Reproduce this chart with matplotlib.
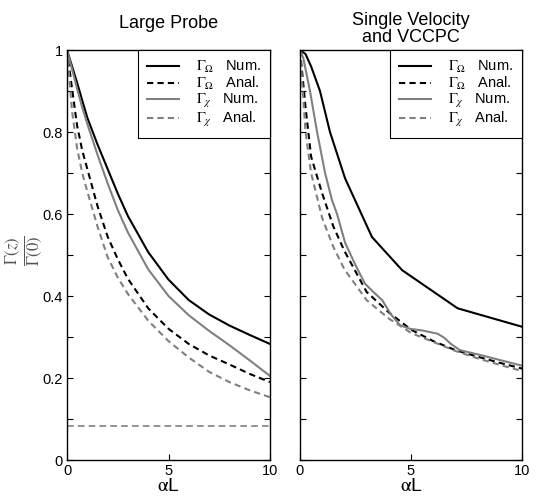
import matplotlib
matplotlib.use("Agg")
import matplotlib.pyplot as plt

plt.rcParams['font.family'] = ['Liberation Sans', 'DejaVu Sans']
plt.rcParams['mathtext.fontset'] = 'stix'

# ---- data ----
# left panel: Large Probe
xl = [0, 0.25, 0.5, 0.75, 1, 1.5, 2, 2.5, 3, 4, 5, 6, 7, 8, 9, 10]
lp_omega_num = [1.0, 0.96, 0.92, 0.877, 0.835, 0.77, 0.71, 0.65, 0.595, 0.507, 0.44, 0.39, 0.355, 0.328, 0.305, 0.283]
lp_omega_anal = [1.0, 0.905, 0.815, 0.755, 0.71, 0.62, 0.545, 0.49, 0.442, 0.37, 0.32, 0.283, 0.255, 0.233, 0.21, 0.19]
lp_chi_num = [1.0, 0.953, 0.905, 0.86, 0.82, 0.745, 0.675, 0.61, 0.555, 0.465, 0.40, 0.353, 0.315, 0.28, 0.243, 0.205]
lp_chi_anal = [1.0, 0.85, 0.76, 0.70, 0.655, 0.57, 0.495, 0.445, 0.405, 0.34, 0.29, 0.25, 0.215, 0.19, 0.17, 0.153]
noise_floor = 0.083

# right panel: Single Velocity and VCCPC
xr_omega_num = [0, 0.25, 0.5, 0.9, 1.35, 2.03, 3.24, 4.6, 7.1, 10]
sv_omega_num = [1.0, 0.99, 0.96, 0.9, 0.8, 0.687, 0.544, 0.463, 0.37, 0.325]
xr_chi_num = [0, 0.15, 0.45, 0.77, 1.13, 1.44, 1.67, 2.03, 2.5, 2.93, 3.3, 3.7, 4.1, 4.5, 4.95, 5.5, 6.2, 6.5, 6.8, 7.2, 8.2, 10]
sv_chi_num = [1.0, 0.98, 0.9, 0.8, 0.7, 0.634, 0.6, 0.53, 0.475, 0.43, 0.41, 0.39, 0.355, 0.329, 0.32, 0.316, 0.308, 0.298, 0.283, 0.268, 0.255, 0.23]
xr = [0, 0.25, 0.5, 1, 1.5, 2, 3, 4, 5, 6, 7, 8, 9, 10]
sv_omega_anal = [1.0, 0.86, 0.74, 0.65, 0.57, 0.51, 0.41, 0.36, 0.318, 0.29, 0.268, 0.252, 0.237, 0.223]
sv_chi_anal = [1.0, 0.8, 0.7, 0.59, 0.52, 0.465, 0.39, 0.345, 0.31, 0.288, 0.266, 0.248, 0.232, 0.217]

labels = [r'$\Gamma_\Omega$   Num.', r'$\Gamma_\Omega$   Anal.',
          r'$\Gamma_\chi$   Num.', r'$\Gamma_\chi$   Anal.']

gray = '#808080'
dash = (3, 2)

fig = plt.figure(figsize=(5.37, 5.04), dpi=100)
axl = fig.add_axes([67/537, 44/504, 203/537, 410/504])
axr = fig.add_axes([300/537, 44/504, 222/537, 410/504])

# left panel
axl.plot(xl, lp_omega_num, color='black', lw=1.5, label=labels[0])
axl.plot(xl, lp_omega_anal, color='black', lw=1.5, dashes=dash, label=labels[1])
axl.plot(xl, lp_chi_num, color=gray, lw=1.5, label=labels[2])
axl.plot(xl, lp_chi_anal, color=gray, lw=1.5, dashes=dash, label=labels[3])
axl.axhline(noise_floor, color=gray, lw=1.2, dashes=(4, 2.5))

# right panel
axr.plot(xr_omega_num, sv_omega_num, color='black', lw=1.5, label=labels[0])
axr.plot(xr, sv_omega_anal, color='black', lw=1.5, dashes=dash, label=labels[1])
axr.plot(xr_chi_num, sv_chi_num, color=gray, lw=1.5, label=labels[2])
axr.plot(xr, sv_chi_anal, color=gray, lw=1.5, dashes=dash, label=labels[3])

for ax in (axl, axr):
    ax.set_xlim(0, 10)
    ax.set_ylim(0, 1)
    ax.set_xticks([0, 5, 10])
    ax.set_yticks([0, 0.1, 0.2, 0.3, 0.4, 0.5, 0.6, 0.7, 0.8, 0.9, 1.0])
    ax.tick_params(direction='in', length=4, width=0.8, top=True, right=True,
                   labelsize=10.5, pad=3)
    for s in ax.spines.values():
        s.set_linewidth(1.0)
    ax.set_xlabel(r'$\mathrm{\alpha}$L', fontsize=14, labelpad=0)
    leg = ax.legend(loc='upper right', fontsize=10.5, frameon=True, fancybox=False,
                    edgecolor='black', framealpha=1, borderaxespad=0,
                    handlelength=2.2, labelspacing=0.0, handletextpad=1.2,
                    borderpad=0.6)
    leg.get_frame().set_linewidth(0.8)

axl.set_yticklabels(['0', '', '0.2', '', '0.4', '', '0.6', '', '0.8', '', '1'])
axr.set_yticklabels([])

axl.set_title('Large Probe', fontsize=13, pad=16)
axr.set_title('Single Velocity\nand VCCPC', fontsize=13, pad=6, linespacing=1.0)

axl.set_ylabel(r'$\frac{\Gamma(z)}{\Gamma(0)}$', fontsize=17, color='#555555')
axl.yaxis.set_label_coords(-0.108, 0.51)

fig.savefig('out.png', dpi=100)
